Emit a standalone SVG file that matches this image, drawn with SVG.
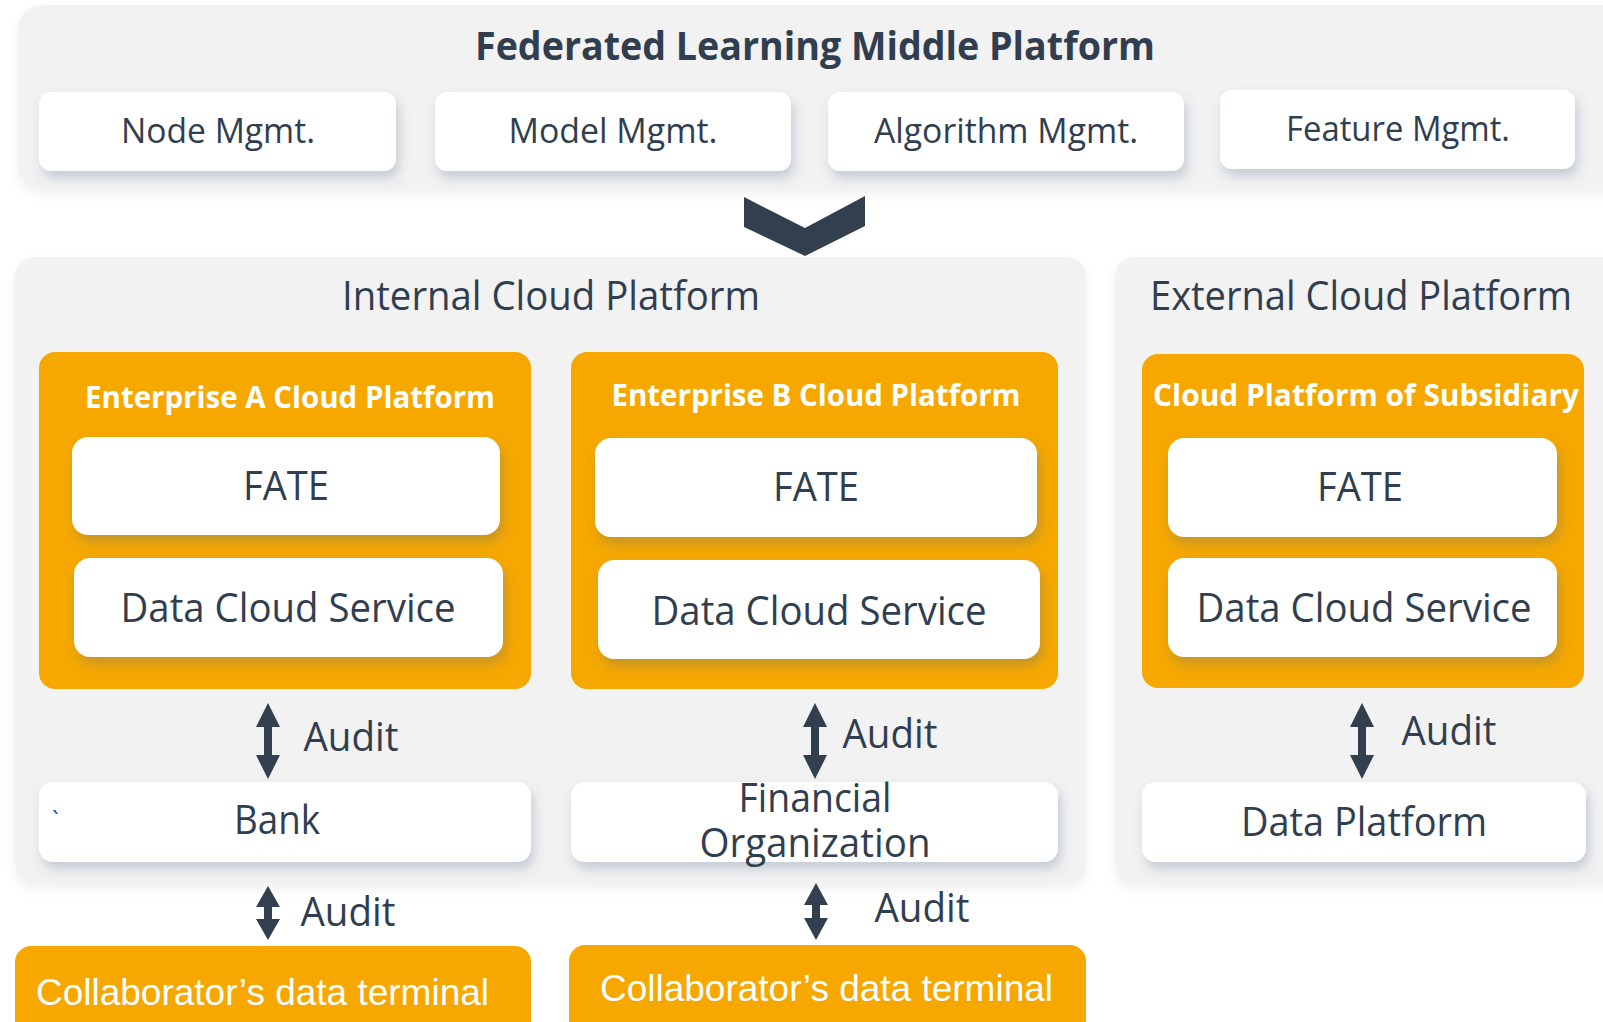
<svg xmlns="http://www.w3.org/2000/svg" width="1603" height="1022" viewBox="0 0 1603 1022">
<defs>
<filter id="sh" x="-10%" y="-30%" width="125%" height="170%">
<feDropShadow dx="3" dy="7" stdDeviation="6" flood-color="#4a6285" flood-opacity="0.28"/>
</filter>
<filter id="shp" x="-5%" y="-10%" width="110%" height="120%">
<feDropShadow dx="0" dy="5" stdDeviation="6" flood-color="#000" flood-opacity="0.06"/>
</filter>
<style>
.panel{fill:#f2f2f2;filter:url(#shp)}
.wbox{fill:#ffffff;filter:url(#sh)}
.obox{fill:#f6a800}
.t{font-family:"Open Sans","Noto Sans","DejaVu Sans",sans-serif;fill:#313e4f;text-anchor:middle}
.tb{font-family:"Open Sans","Noto Sans","DejaVu Sans",sans-serif;font-weight:bold;text-anchor:middle}
.ta{font-family:"Liberation Sans",Arial,sans-serif;fill:#ffffff}
.arr{fill:#323f4e}
</style>
</defs>

<g id="middle-platform">
<rect class="panel" x="18" y="5" width="1610" height="184" rx="24"/>
<text class="tb" x="815" y="60" font-size="40" fill="#313e4f" textLength="680" lengthAdjust="spacingAndGlyphs">Federated Learning Middle Platform</text>
</g>
<g id="node-mgmt">
<rect class="wbox" x="39" y="92" width="357" height="79" rx="12"/>
<text class="t" x="218" y="143" font-size="34" textLength="194" lengthAdjust="spacingAndGlyphs">Node Mgmt.</text>
</g>
<g id="model-mgmt">
<rect class="wbox" x="435" y="92" width="356" height="79" rx="12"/>
<text class="t" x="613" y="143" font-size="34" textLength="209" lengthAdjust="spacingAndGlyphs">Model Mgmt.</text>
</g>
<g id="algorithm-mgmt">
<rect class="wbox" x="828" y="92" width="356" height="79" rx="12"/>
<text class="t" x="1006" y="143" font-size="34" textLength="264" lengthAdjust="spacingAndGlyphs">Algorithm Mgmt.</text>
</g>
<g id="feature-mgmt">
<rect class="wbox" x="1220" y="90" width="355" height="79" rx="12"/>
<text class="t" x="1398" y="141" font-size="34" textLength="224" lengthAdjust="spacingAndGlyphs">Feature Mgmt.</text>
</g>

<g id="internal-cloud">
<rect class="panel" x="15" y="257" width="1071" height="627" rx="20"/>
<text class="t" x="551" y="310" font-size="40" textLength="418" lengthAdjust="spacingAndGlyphs">Internal Cloud Platform</text>
</g>
<g id="external-cloud">
<rect class="panel" x="1115" y="257" width="510" height="627" rx="20"/>
<text class="t" x="1361" y="310" font-size="40" textLength="422" lengthAdjust="spacingAndGlyphs">External Cloud Platform</text>
</g>

<g id="enterprise-a">
<rect class="obox" x="39" y="352" width="492" height="337" rx="16"/>
<text class="tb" x="290" y="408" font-size="30" fill="#ffffff" textLength="410" lengthAdjust="spacingAndGlyphs">Enterprise A Cloud Platform</text>
</g>
<g id="fate-a">
<rect class="wbox" x="72" y="437" width="428" height="98" rx="16"/>
<text class="t" x="286" y="500" font-size="40" textLength="86" lengthAdjust="spacingAndGlyphs">FATE</text>
</g>
<g id="dcs-a">
<rect class="wbox" x="74" y="558" width="429" height="99" rx="16"/>
<text class="t" x="288" y="622" font-size="40" textLength="335" lengthAdjust="spacingAndGlyphs">Data Cloud Service</text>
</g>

<g id="enterprise-b">
<rect class="obox" x="571" y="352" width="487" height="337" rx="16"/>
<text class="tb" x="816" y="406" font-size="30" fill="#ffffff" textLength="409" lengthAdjust="spacingAndGlyphs">Enterprise B Cloud Platform</text>
</g>
<g id="fate-b">
<rect class="wbox" x="595" y="438" width="442" height="99" rx="16"/>
<text class="t" x="816" y="501" font-size="40" textLength="86" lengthAdjust="spacingAndGlyphs">FATE</text>
</g>
<g id="dcs-b">
<rect class="wbox" x="598" y="560" width="442" height="99" rx="16"/>
<text class="t" x="819" y="625" font-size="40" textLength="335" lengthAdjust="spacingAndGlyphs">Data Cloud Service</text>
</g>

<g id="subsidiary">
<rect class="obox" x="1142" y="354" width="442" height="334" rx="16"/>
<text class="tb" x="1366" y="406" font-size="30" fill="#ffffff" textLength="426" lengthAdjust="spacingAndGlyphs">Cloud Platform of Subsidiary</text>
</g>
<g id="fate-c">
<rect class="wbox" x="1168" y="438" width="389" height="99" rx="16"/>
<text class="t" x="1360" y="501" font-size="40" textLength="86" lengthAdjust="spacingAndGlyphs">FATE</text>
</g>
<g id="dcs-c">
<rect class="wbox" x="1168" y="558" width="389" height="99" rx="16"/>
<text class="t" x="1364" y="622" font-size="40" textLength="335" lengthAdjust="spacingAndGlyphs">Data Cloud Service</text>
</g>

<g id="bank">
<rect class="wbox" x="39" y="782" width="492" height="80" rx="14"/>
<text x="52" y="828" font-size="24" font-family="'Open Sans',sans-serif" fill="#1f5ba8">`</text>
<text class="t" x="277" y="834" font-size="40" textLength="86" lengthAdjust="spacingAndGlyphs">Bank</text>
</g>
<g id="financial-org">
<rect class="wbox" x="571" y="782" width="487" height="80" rx="14"/>
<text class="t" x="815" y="812" font-size="40" textLength="153" lengthAdjust="spacingAndGlyphs">Financial</text>
<text class="t" x="815" y="857" font-size="40" textLength="231" lengthAdjust="spacingAndGlyphs">Organization</text>
</g>
<g id="data-platform">
<rect class="wbox" x="1142" y="782" width="444" height="80" rx="14"/>
<text class="t" x="1364" y="836" font-size="40" textLength="246" lengthAdjust="spacingAndGlyphs">Data Platform</text>
</g>

<g id="collab-a">
<rect class="obox" x="15" y="946" width="516" height="100" rx="16"/>
<text class="ta" x="36" y="1005" font-size="37" textLength="453" lengthAdjust="spacingAndGlyphs">Collaborator’s data terminal</text>
</g>
<g id="collab-b">
<rect class="obox" x="569" y="945" width="517" height="100" rx="16"/>
<text class="ta" x="600" y="1001" font-size="37" textLength="453" lengthAdjust="spacingAndGlyphs">Collaborator’s data terminal</text>
</g>

<g id="connectors">
<path class="arr" d="M744,197 L805,228 L865,196 L865,226 L805,256 L744,227 Z"/>
<path class="arr" d="M268,703 L280,727 L272,727 L272,755 L280,755 L268,779 L256,755 L264,755 L264,727 L256,727 Z"/>
<path class="arr" d="M815,703 L827,727 L819,727 L819,755 L827,755 L815,779 L803,755 L811,755 L811,727 L803,727 Z"/>
<path class="arr" d="M1362,703 L1374,727 L1366,727 L1366,755 L1374,755 L1362,779 L1350,755 L1358,755 L1358,727 L1350,727 Z"/>
<path class="arr" d="M268,886 L280,907 L272,907 L272,919 L280,919 L268,940 L256,919 L264,919 L264,907 L256,907 Z"/>
<path class="arr" d="M816,883 L828,905 L820,905 L820,918 L828,918 L816,940 L804,918 L812,918 L812,905 L804,905 Z"/>
<text class="t" x="351" y="751" font-size="40" textLength="95" lengthAdjust="spacingAndGlyphs">Audit</text>
<text class="t" x="890" y="748" font-size="40" textLength="95" lengthAdjust="spacingAndGlyphs">Audit</text>
<text class="t" x="1449" y="745" font-size="40" textLength="95" lengthAdjust="spacingAndGlyphs">Audit</text>
<text class="t" x="348" y="926" font-size="40" textLength="95" lengthAdjust="spacingAndGlyphs">Audit</text>
<text class="t" x="922" y="922" font-size="40" textLength="95" lengthAdjust="spacingAndGlyphs">Audit</text>
</g>
</svg>
